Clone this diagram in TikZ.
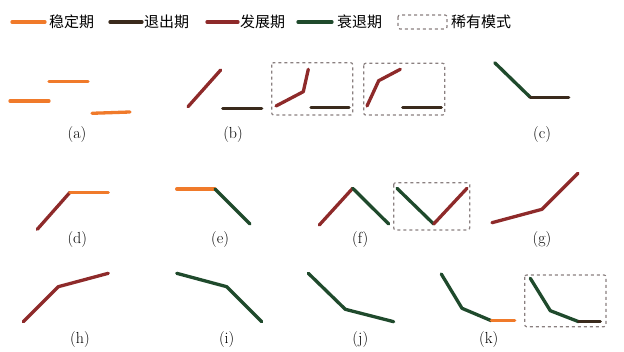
\documentclass[tikz,border=0pt]{standalone}
\usepackage{fontspec}
\newfontfamily\cjk{Noto Sans CJK SC}
\definecolor{cstab}{HTML}{F07A2A}
\definecolor{cexit}{HTML}{3A2A1C}
\definecolor{cdev}{HTML}{8E2A2A}
\definecolor{cdecl}{HTML}{1F4A2C}
\definecolor{cbox}{HTML}{8A8080}
\tikzset{
  seg/.style={line width=3.3pt, line cap=round, line join=round},
  stab/.style={seg, cstab},
  exitp/.style={seg, cexit},
  devp/.style={seg, cdev},
  declp/.style={seg, cdecl},
  rarebox/.style={draw=cbox, dashed, line width=1.2pt, rounded corners=2pt},
  legtext/.style={anchor=west, inner sep=0pt, font=\cjk\fontsize{15}{17}\selectfont},
  sublabel/.style={inner sep=0pt, font=\fontsize{16}{18}\selectfont}
}
\begin{document}
\begin{tikzpicture}[x=1pt,y=-1pt]
\useasboundingbox (0,0) rectangle (624,352);
% legend
\draw[stab] (12,22) -- (45,22);
\node[legtext] (l1) at (49,22) {稳定期};
\draw[exitp] (110,22) -- (142,22);
\node[legtext] (l2) at (144,22) {退出期};
\draw[devp] (207,22) -- (238,22);
\node[legtext] (l3) at (240,22) {发展期};
\draw[declp] (298,22) -- (332,22);
\node[legtext] (l4) at (337,22) {衰退期};
\draw[rarebox] (398,15) rectangle (447,29);
\node[legtext] (l5) at (451,22) {稀有模式};

% (a)
\draw[stab] (10,101) -- (49,101);
\draw[stab] (49,81.7) -- (88,81.7);
\draw[stab] (92,113.3) -- (130,112);
\node[sublabel] (la) at (77,135) {(a)};

% (b)
\draw[devp] (188,106.7) -- (220.7,70);
\draw[exitp] (222.7,108.3) -- (261.7,108.3);
\node[sublabel] (lb) at (233,135) {(b)};
\draw[rarebox] (271.7,62.7) rectangle (352.7,115);
\draw[devp] (276,106) -- (303.3,91.7) -- (308.3,69.3);
\draw[exitp] (311,107.7) -- (349,107.7);
\draw[rarebox] (363.7,63.3) rectangle (444.7,115);
\draw[devp] (367,106) -- (378.7,80.7) -- (400.3,69.3);
\draw[exitp] (402.7,107.7) -- (441.3,107.7);

% (c)
\draw[declp] (494.7,62.7) -- (530.3,97.3);
\draw[exitp] (530.3,97.3) -- (568.7,97.3);
\node[sublabel] (lc) at (542,135) {(c)};

% (d)
\draw[devp] (37.3,229.3) -- (70,192.3);
\draw[stab] (70,192.3) -- (108.3,192.3);
\node[sublabel] (ld) at (77.3,240) {(d)};

% (e)
\draw[stab] (176.7,189) -- (215,189);
\draw[declp] (215,189) -- (250,224);
\node[sublabel] (le) at (220,240) {(e)};

% (f)
\draw[devp] (319.3,225) -- (352.7,188.3);
\draw[declp] (352.7,188.3) -- (388.7,224);
\node[sublabel] (lf) at (360.3,240) {(f)};
\draw[rarebox] (393.7,182.7) rectangle (469.7,230);
\draw[declp] (397,188.3) -- (433.7,224);
\draw[devp] (433.7,224) -- (467,188.3);

% (g)
\draw[devp] (492,222.7) -- (542,209.3) -- (578,173.3);
\node[sublabel] (lg) at (542,240) {(g)};

% (h)
\draw[devp] (23.3,321.7) -- (58.3,286.7) -- (108.3,273.3);
\node[sublabel] (lh) at (80,340) {(h)};

% (i)
\draw[declp] (176.7,273.3) -- (226.7,286.7) -- (261.7,321.7);
\node[sublabel] (li) at (226.7,340) {(i)};

% (j)
\draw[declp] (308.3,273.3) -- (345.3,309.3) -- (393.7,321.7);
\node[sublabel] (lj) at (360.3,340) {(j)};

% (k)
\draw[declp] (441.3,274) -- (462,308.3) -- (491.3,320.7);
\draw[stab] (491.3,320.7) -- (514.7,320.7);
\node[sublabel] (lk) at (488.7,340) {(k)};
\draw[rarebox] (524.7,275) rectangle (606,326.7);
\draw[declp] (530.3,278.3) -- (550.3,310.7) -- (578.7,321.7);
\draw[exitp] (578.7,321.7) -- (600.3,321.7);
\end{tikzpicture}
\end{document}
